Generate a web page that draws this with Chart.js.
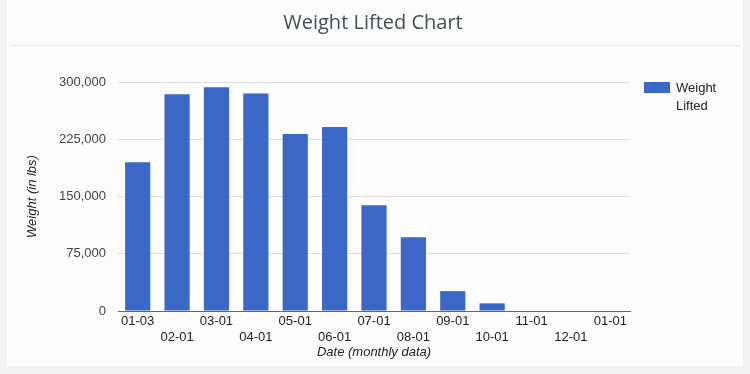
<!DOCTYPE html>
<html>
<head>
<meta charset="utf-8">
<script src="https://cdn.jsdelivr.net/npm/chart.js@4/dist/chart.umd.min.js"></script>
<style>
  html, body { margin: 0; padding: 0; background: #f2f2f2; }
  #card { position: absolute; left: 7px; top: 0; width: 736px; height: 366px; background: #fdfdfd; }
</style>
</head>
<body>
<div id="card"><canvas id="chart" width="736" height="366"></canvas></div>
<script>
// monthly totals
const months = ["01-03", "02-01", "03-01", "04-01", "05-01", "06-01", "07-01",
                "08-01", "09-01", "10-01", "11-01", "12-01", "01-01"];
const weightLifted = [195000, 284000, 293000, 285000, 232000, 241000, 138500,
                      96500, 26000, 10000, 0, 0, 0];
const yTicks = [0, 75000, 150000, 225000, 300000];
const seriesName = ["Weight", "Lifted"];
const chartTitle = "Weight Lifted Chart";

const barColor = "#3b67c6";

// title (centred on the card), divider and wrapped legend
const extras = {
  id: "extras",
  afterDraw(chart) {
    const ctx = chart.ctx;
    ctx.save();
    ctx.fillStyle = "#444c58";
    ctx.font = "20px 'Open Sans', sans-serif";
    ctx.textAlign = "center";
    ctx.textBaseline = "middle";
    ctx.fillText(chartTitle, 366, 23);

    ctx.strokeStyle = "#e6e6e6";
    ctx.lineWidth = 1;
    ctx.beginPath();
    ctx.moveTo(3, 45.5);
    ctx.lineTo(733, 45.5);
    ctx.stroke();

    const lx = chart.chartArea.right + 14;
    const ly = chart.chartArea.top;
    ctx.fillStyle = barColor;
    ctx.fillRect(lx, ly, 26, 11);
    ctx.fillStyle = "#222";
    ctx.font = "13px 'Liberation Sans', Arial, sans-serif";
    ctx.textAlign = "left";
    seriesName.forEach((t, i) => ctx.fillText(t, lx + 32, ly + 6 + i * 18));
    ctx.restore();
  }
};

new Chart(document.getElementById("chart"), {
  type: "bar",
  data: {
    labels: months,
    datasets: [{
      label: seriesName.join(" "),
      data: weightLifted,
      backgroundColor: barColor,
      borderWidth: 0,
      barPercentage: 0.64,
      categoryPercentage: 1.0
    }]
  },
  options: {
    responsive: false,
    animation: false,
    layout: { padding: { left: 0, right: 113, top: 82, bottom: 0 } },
    plugins: {
      legend: { display: false },
      tooltip: { enabled: false },
      title: { display: false }
    },
    scales: {
      x: {
        grid: { display: false, drawTicks: false },
        border: { color: "#666", width: 1 },
        ticks: {
          autoSkip: false,
          maxRotation: 0,
          padding: 3,
          color: "#222",
          font: { family: "'Liberation Sans', Arial, sans-serif", size: 13 },
          callback: function (v, i) {
            const lbl = this.getLabelForValue(v);
            return i % 2 === 0 ? [lbl, ""] : ["", lbl];
          }
        },
        title: {
          display: true,
          text: "Date (monthly data)",
          color: "#222",
          font: { family: "'Liberation Sans', Arial, sans-serif", size: 13, style: "italic" },
          padding: { top: 0, bottom: 6 }
        },
        afterFit: (s) => { s.height = 55; }
      },
      y: {
        min: 0,
        max: 300000,
        afterBuildTicks: (s) => { s.ticks = yTicks.map(v => ({ value: v })); },
        grid: { color: "#dcdcdc", drawTicks: false },
        border: { display: false },
        ticks: {
          padding: 12,
          color: "#444",
          font: { family: "'Liberation Sans', Arial, sans-serif", size: 13 },
          callback: (v) => v.toLocaleString("en-US")
        },
        title: {
          display: true,
          text: "Weight (in lbs)",
          color: "#222",
          font: { family: "'Liberation Sans', Arial, sans-serif", size: 13, style: "italic" },
          padding: { top: 18, bottom: 0 }
        },
        afterFit: (s) => { s.width = 111; }
      }
    }
  },
  plugins: [extras]
});
</script>
</body>
</html>
